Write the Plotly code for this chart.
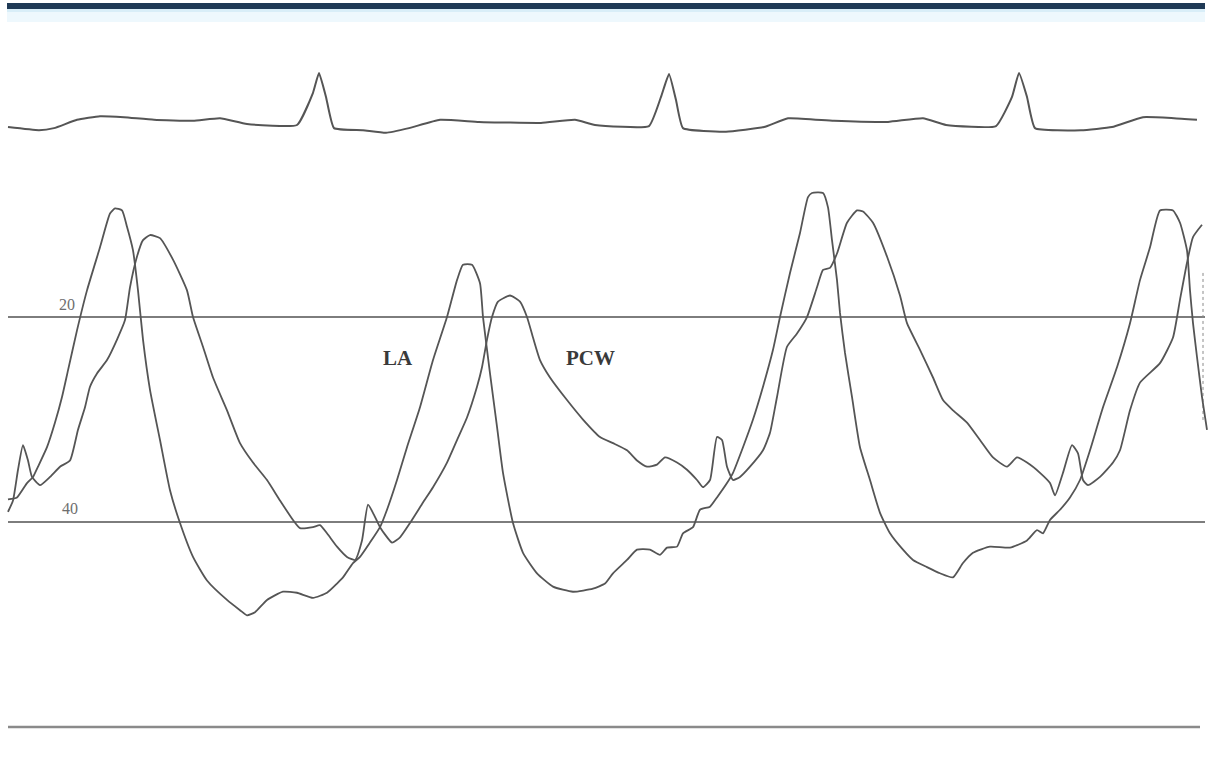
import plotly.graph_objects as go

# time in ms (2 ms per trace unit), pressures in mmHg, ECG in mV
la_t = [16, 34, 54, 66, 76, 94, 110, 124, 136, 154, 174, 200, 220, 230, 244, 254, 266, 276, 286, 300,
        320, 340, 360, 386, 414, 454, 480, 494, 510, 534, 566, 594, 626, 654, 674, 686, 706, 720, 740, 760,
        774, 794, 814, 840, 866, 894, 914, 926, 944, 960, 966, 980, 994, 1006, 1026, 1046, 1074, 1106, 1146, 1186,
        1210, 1226, 1254, 1274, 1300, 1320, 1334, 1354, 1366, 1386, 1400, 1420, 1434, 1454, 1466, 1486, 1506, 1526, 1546, 1560,
        1580, 1600, 1616, 1624, 1646, 1656, 1664, 1674, 1680, 1690, 1704, 1720, 1740, 1760, 1780, 1806, 1826, 1854, 1880, 1906,
        1926, 1946, 1980, 2020, 2054, 2074, 2086, 2100, 2120, 2140, 2160, 2180, 2206, 2234, 2260, 2280, 2300, 2320, 2346, 2360,
        2374, 2380, 2386, 2394, 2404, 2414]
la_p = [37.8, 37.6, 36.2, 35.6, 34.6, 32.7, 30.3, 27.8, 25.2, 21.3, 17.4, 13.2, 9.9, 9.4, 9.6, 11.2, 13.5, 17.4, 22.2, 27.1,
        32.0, 36.9, 40.1, 43.4, 45.7, 47.6, 48.6, 49.1, 48.8, 47.6, 46.8, 46.9, 47.4, 46.9, 46.0, 45.4, 44.0, 43.4, 42.0, 40.5,
        38.8, 35.9, 32.7, 28.8, 24.2, 20.0, 16.4, 14.9, 14.9, 16.7, 20.0, 25.5, 30.7, 35.2, 40.1, 43.0, 45.0, 46.3, 46.8, 46.5,
        46.0, 45.0, 43.7, 42.7, 42.7, 43.2, 42.5, 42.4, 41.1, 40.5, 38.8, 38.5, 37.6, 36.2, 35.2, 32.7, 30.0, 26.8, 23.2, 20.0,
        15.7, 11.8, 8.3, 7.9, 7.9, 9.3, 12.5, 16.4, 19.6, 23.5, 27.8, 32.7, 35.9, 39.1, 41.1, 42.7, 43.7, 44.4, 45.0, 45.4,
        44.0, 43.0, 42.4, 42.5, 41.8, 40.8, 41.1, 39.8, 38.8, 37.6, 35.9, 33.0, 28.8, 24.9, 20.6, 16.4, 13.2, 9.6, 9.6, 10.8,
        13.5, 17.4, 20.6, 23.9, 27.8, 31.0]

pcw_t = [16, 26, 36, 46, 56, 64, 80, 100, 120, 140, 156, 170, 180, 194, 214, 234, 250, 260, 274, 286,
         300, 320, 346, 374, 386, 406, 426, 454, 480, 506, 534, 560, 586, 600, 626, 640, 654, 674, 694, 710,
         724, 736, 748, 760, 784, 800, 820, 846, 866, 894, 914, 934, 954, 964, 974, 984, 996, 1020, 1040, 1054,
         1066, 1080, 1100, 1134, 1166, 1200, 1226, 1254, 1274, 1294, 1314, 1330, 1354, 1374, 1394, 1406, 1420, 1434, 1444, 1454,
         1466, 1480, 1500, 1526, 1540, 1554, 1574, 1594, 1614, 1634, 1646, 1660, 1674, 1694, 1714, 1726, 1746, 1774, 1800, 1814,
         1840, 1866, 1886, 1906, 1934, 1960, 1986, 2014, 2034, 2054, 2080, 2100, 2110, 2126, 2144, 2156, 2166, 2176, 2200, 2226,
         2240, 2260, 2280, 2320, 2346, 2360, 2374, 2386, 2404]
pcw_p = [39.0, 37.9, 34.9, 32.5, 34.0, 35.6, 36.4, 35.6, 34.6, 34.0, 31.0, 28.8, 26.8, 25.5, 24.2, 22.2, 20.3, 17.1, 14.1, 12.5,
         12.0, 12.3, 14.4, 17.4, 20.0, 22.9, 25.9, 29.1, 32.3, 34.2, 35.9, 37.9, 39.8, 40.6, 40.5, 40.3, 41.1, 42.4, 43.4, 43.7,
         41.8, 38.3, 39.3, 40.5, 42.0, 41.5, 40.1, 38.1, 36.6, 34.2, 32.0, 29.8, 26.8, 24.9, 22.2, 20.0, 18.5, 17.9, 18.5, 20.0,
         22.0, 24.2, 25.9, 28.1, 30.0, 31.7, 32.3, 33.0, 34.0, 34.6, 34.4, 33.7, 34.2, 34.9, 35.9, 36.6, 35.9, 31.7, 32.0, 34.6,
         35.9, 35.6, 34.6, 33.0, 31.3, 27.8, 22.9, 21.6, 20.0, 17.1, 15.4, 15.2, 13.8, 10.8, 9.6, 9.7, 10.8, 14.1, 17.9, 20.6,
         23.2, 25.9, 28.1, 29.1, 30.3, 32.0, 33.7, 34.6, 33.7, 34.2, 35.2, 36.2, 37.4, 35.2, 32.5, 33.3, 35.9, 36.4, 35.6, 34.2,
         33.0, 29.1, 26.4, 24.5, 22.0, 18.3, 14.7, 12.2, 11.0]

ecg_t = [16, 78, 108, 154, 200, 248, 308, 386, 440, 494, 594, 626, 638, 652, 668, 726, 772, 818, 880, 958,
         1082, 1150, 1190, 1298, 1322, 1338, 1352, 1366, 1452, 1528, 1576, 1668, 1776, 1846, 1892, 1992, 2024, 2038, 2054, 2070,
         2162, 2224, 2286, 2348, 2394]
ecg_mv = [-0.04, -0.10, -0.06, 0.10, 0.17, 0.15, 0.10, 0.08, 0.13, 0.02, 0.00, 0.62, 1.00, 0.54, -0.06, -0.10, -0.15, -0.06, 0.10, 0.06,
          0.04, 0.10, 0.00, -0.02, 0.54, 0.98, 0.48, -0.06, -0.13, -0.04, 0.13, 0.08, 0.06, 0.13, 0.00, -0.02, 0.54, 1.00, 0.54, -0.06,
          -0.10, -0.04, 0.15, 0.13, 0.10]

ref_levels = [20, 40]
ref_labels = ["20", "40"]
trace_labels = ["LA", "PCW"]

INK = "#555555"
GRID = "#7d7d7d"

fig = go.Figure()
fig.add_trace(go.Scatter(x=ecg_t, y=ecg_mv, yaxis="y2", mode="lines",
                         line=dict(color=INK, width=2, shape="spline", smoothing=0.4),
                         hoverinfo="skip", showlegend=False))
fig.add_trace(go.Scatter(x=la_t, y=la_p, mode="lines", name="LA",
                         line=dict(color=INK, width=1.8, shape="spline", smoothing=0.5),
                         showlegend=False))
fig.add_trace(go.Scatter(x=pcw_t, y=pcw_p, mode="lines", name="PCW",
                         line=dict(color=INK, width=1.8, shape="spline", smoothing=0.5),
                         showlegend=False))

shapes = []
for lv in ref_levels:
    shapes.append(dict(type="line", xref="x", yref="y", x0=16, x1=2410, y0=lv, y1=lv,
                       line=dict(color=GRID, width=2), layer="below"))
# recording baseline at the bottom
shapes.append(dict(type="line", xref="x", yref="y", x0=16, x1=2400, y0=60, y1=60,
                   line=dict(color="#8a8a8a", width=2.5), layer="below"))
# faint dashed calibration mark on right
shapes.append(dict(type="line", xref="x", yref="y", x0=2406, x1=2406, y0=15.7, y1=30.3,
                   line=dict(color="#8a8a8a", width=1, dash="dot"), layer="below"))
# top banner
H = 767.0
def py(px):
    return 1 - px / H
shapes.append(dict(type="rect", xref="paper", yref="paper", x0=7/1211, x1=1205/1211,
                   y0=py(22), y1=py(8), fillcolor="#eef8fd", line=dict(width=0), layer="below"))
shapes.append(dict(type="rect", xref="paper", yref="paper", x0=7/1211, x1=1205/1211,
                   y0=py(12), y1=py(8), fillcolor="#d9eef8", line=dict(width=0), layer="below"))
shapes.append(dict(type="rect", xref="paper", yref="paper", x0=7/1211, x1=1205/1211,
                   y0=py(9), y1=py(3), fillcolor="#1f3a56", line=dict(width=0)))

annotations = [
    dict(x=134, y=18.8, xref="x", yref="y", text=ref_labels[0], showarrow=False,
         font=dict(family="Liberation Serif", size=16, color="#6e6e6e")),
    dict(x=140, y=38.7, xref="x", yref="y", text=ref_labels[1], showarrow=False,
         font=dict(family="Liberation Serif", size=16, color="#6e6e6e")),
    dict(x=796, y=24.0, xref="x", yref="y", text="<b>%s</b>" % trace_labels[0], showarrow=False,
         font=dict(family="Liberation Serif", size=21, color="#3a3a3a")),
    dict(x=1180, y=24.0, xref="x", yref="y", text="<b>%s</b>" % trace_labels[1], showarrow=False,
         font=dict(family="Liberation Serif", size=21, color="#3a3a3a")),
]

fig.update_layout(
    width=1211, height=767,
    margin=dict(l=0, r=0, t=0, b=0),
    paper_bgcolor="white", plot_bgcolor="white",
    xaxis=dict(range=[0, 2422], visible=False, fixedrange=True),
    yaxis=dict(range=[63.90, -10.93], visible=False, fixedrange=True),
    yaxis2=dict(range=[-12.346, 2.404], overlaying="y", visible=False, fixedrange=True),
    shapes=shapes, annotations=annotations,
    showlegend=False,
)

fig.write_html("out.html", config={"displayModeBar": False})
